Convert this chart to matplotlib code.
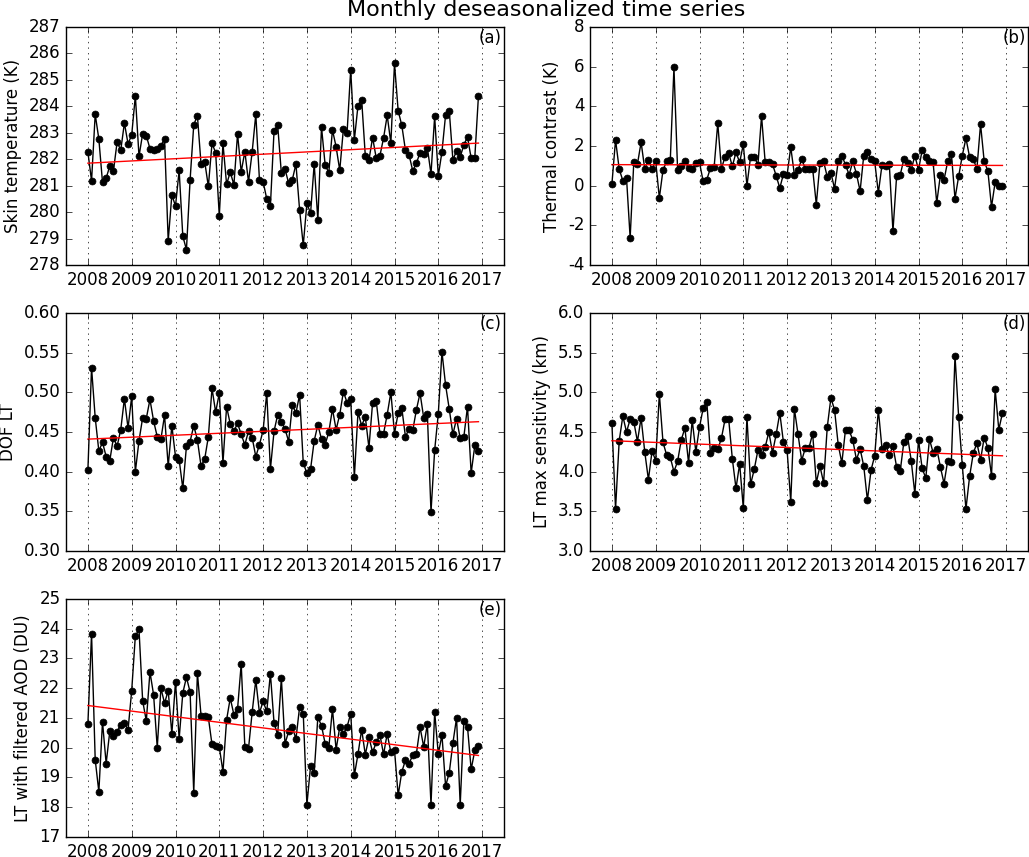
import numpy as np
import matplotlib
matplotlib.use('Agg')
import matplotlib.pyplot as plt

plt.style.use('classic')
plt.rcParams['figure.facecolor'] = 'white'
plt.rcParams['savefig.facecolor'] = 'white'

start_year = 2008
n_months = 108
year_ticks = list(range(2008, 2018))

# monthly deseasonalized values, Jan 2008 .. Dec 2016
skin_temp = [282.27, 281.18, 283.70, 282.76, 281.13, 281.28, 281.75, 281.56, 282.65, 282.34, 283.37, 282.58,
             282.92, 284.40, 282.11, 282.96, 282.89, 282.40, 282.34, 282.37, 282.50, 282.77, 278.92, 280.65,
             280.23, 281.58, 279.09, 278.58, 281.22, 283.30, 283.65, 281.81, 281.91, 280.97, 282.60, 282.25,
             279.85, 282.60, 281.05, 281.52, 281.03, 282.96, 281.52, 282.29, 281.14, 282.27, 283.70, 281.22,
             281.15, 280.50, 280.23, 283.08, 283.28, 281.47, 281.63, 281.09, 281.22, 281.82, 280.08, 278.75,
             280.33, 279.95, 281.82, 279.70, 283.22, 281.78, 281.49, 283.11, 282.47, 281.58, 283.15, 282.99,
             285.39, 282.73, 284.03, 284.25, 282.13, 281.97, 282.82, 282.04, 282.13, 282.80, 283.66, 282.61,
             285.62, 283.84, 283.28, 282.34, 282.16, 281.56, 281.85, 282.25, 282.20, 282.44, 281.44, 283.62,
             281.37, 282.28, 283.68, 283.84, 281.97, 282.32, 282.09, 282.54, 282.84, 282.04, 282.06, 284.40]

thermal_contrast = [0.08, 2.31, 0.84, 0.25, 0.40, -2.63, 1.20, 1.09, 2.19, 0.84, 1.30, 0.84,
                    1.22, -0.62, 0.79, 1.22, 1.30, 5.96, 0.79, 0.99, 1.22, 0.89, 0.84, 1.12,
                    1.17, 0.22, 0.30, 0.89, 0.92, 3.15, 0.85, 1.46, 1.64, 0.97, 1.69, 1.17,
                    2.09, 0.00, 1.47, 1.46, 1.04, 3.51, 1.17, 1.17, 1.09, 0.50, -0.12, 0.59,
                    0.55, 1.94, 0.55, 0.77, 1.34, 0.85, 0.85, 0.85, -0.95, 1.14, 1.22, 0.44,
                    0.65, -0.15, 1.22, 1.52, 1.05, 0.55, 1.22, 0.60, -0.28, 1.52, 1.72, 1.34,
                    1.22, -0.37, 1.05, 0.97, 1.09, -2.29, 0.47, 0.55, 1.34, 1.14, 0.79, 1.52,
                    0.79, 1.79, 1.46, 1.22, 1.17, -0.87, 0.55, 0.30, 1.22, 1.62, -0.65, 0.47,
                    1.52, 2.39, 1.44, 1.34, 0.85, 3.10, 1.22, 0.75, -1.07, 0.18, 0.00, 0.00]

dof_lt = [0.402, 0.531, 0.468, 0.426, 0.437, 0.419, 0.414, 0.443, 0.432, 0.453, 0.492, 0.455,
          0.495, 0.400, 0.439, 0.468, 0.467, 0.491, 0.464, 0.444, 0.441, 0.471, 0.407, 0.458,
          0.419, 0.415, 0.379, 0.432, 0.438, 0.458, 0.440, 0.407, 0.416, 0.444, 0.505, 0.475,
          0.499, 0.411, 0.482, 0.460, 0.451, 0.461, 0.447, 0.434, 0.451, 0.443, 0.419, 0.434,
          0.452, 0.499, 0.403, 0.451, 0.472, 0.463, 0.454, 0.438, 0.484, 0.474, 0.497, 0.411,
          0.398, 0.403, 0.439, 0.459, 0.441, 0.434, 0.450, 0.479, 0.453, 0.472, 0.501, 0.487,
          0.492, 0.393, 0.475, 0.458, 0.469, 0.430, 0.487, 0.489, 0.448, 0.448, 0.472, 0.500,
          0.448, 0.474, 0.480, 0.444, 0.454, 0.452, 0.478, 0.499, 0.468, 0.473, 0.349, 0.427,
          0.473, 0.551, 0.509, 0.479, 0.447, 0.467, 0.442, 0.444, 0.482, 0.398, 0.433, 0.426]

lt_max_sens = [4.61, 3.53, 4.39, 4.70, 4.50, 4.66, 4.63, 4.38, 4.68, 4.25, 3.90, 4.26,
               4.14, 4.98, 4.37, 4.21, 4.18, 4.00, 4.13, 4.40, 4.55, 4.11, 4.65, 4.25,
               4.56, 4.80, 4.88, 4.23, 4.30, 4.28, 4.42, 4.66, 4.66, 4.16, 3.79, 4.10,
               3.54, 4.69, 3.84, 4.03, 4.27, 4.21, 4.31, 4.50, 4.24, 4.47, 4.74, 4.37,
               4.27, 3.62, 4.79, 4.47, 4.14, 4.30, 4.30, 4.48, 3.86, 4.07, 3.86, 4.56,
               4.93, 4.78, 4.34, 4.11, 4.53, 4.52, 4.40, 4.15, 4.29, 4.07, 3.64, 4.02,
               4.20, 4.78, 4.29, 4.34, 4.21, 4.32, 4.06, 4.01, 4.38, 4.45, 4.14, 3.72,
               4.40, 4.04, 3.92, 4.41, 4.24, 4.29, 4.06, 3.85, 4.14, 4.12, 5.46, 4.69,
               4.08, 3.53, 3.94, 4.23, 4.36, 4.15, 4.43, 4.30, 3.95, 5.04, 4.53, 4.74]

lt_filtered_aod = [20.81, 23.83, 19.60, 18.52, 20.87, 19.47, 20.56, 20.41, 20.54, 20.78, 20.83, 20.60,
                   21.92, 23.76, 23.98, 21.58, 20.90, 22.55, 21.78, 20.00, 22.00, 21.50, 21.92, 20.47,
                   22.22, 20.30, 21.84, 22.37, 21.87, 18.49, 22.52, 21.08, 21.06, 21.02, 20.11, 20.07,
                   20.03, 19.19, 20.94, 21.67, 21.11, 21.30, 22.82, 20.03, 19.97, 21.19, 22.28, 21.17,
                   21.56, 21.22, 22.49, 20.83, 20.44, 22.34, 20.13, 20.55, 20.69, 20.30, 21.37, 21.15,
                   18.08, 19.38, 19.16, 21.03, 20.74, 20.14, 20.00, 21.31, 19.94, 20.70, 20.47, 20.70,
                   21.15, 19.07, 19.79, 20.61, 19.77, 20.35, 19.85, 20.18, 20.44, 19.78, 20.47, 19.85,
                   19.92, 18.40, 19.19, 19.58, 19.47, 19.75, 19.80, 20.69, 20.03, 20.80, 18.08, 21.20,
                   19.79, 20.43, 18.71, 19.16, 20.16, 21.00, 18.08, 20.91, 20.70, 19.27, 19.91, 20.07]

# linear trend values (first month, last month)
trend_skin = [281.85, 282.61]
trend_thermal = [1.06, 1.02]
trend_dof = [0.441, 0.463]
trend_sens = [4.39, 4.20]
trend_aod = [21.42, 19.74]

time = start_year + np.arange(n_months) / 12.0

W, H = 1029., 857.


def px_rect(left, top, right, bottom):
    return [left / W, 1 - bottom / H, (right - left) / W, (bottom - top) / H]


panels = [
    # data, trend, ylabel, ylim, yticks, fmt, tag, rect
    (skin_temp, trend_skin, 'Skin temperature (K)', (278, 287), np.arange(278, 288, 1), '%d', '(a)',
     px_rect(66, 27, 504, 265)),
    (thermal_contrast, trend_thermal, 'Thermal contrast (K)', (-4, 8), np.arange(-4, 9, 2), '%d', '(b)',
     px_rect(590, 27, 1028, 265)),
    (dof_lt, trend_dof, 'DOF LT', (0.30, 0.60), np.arange(0.30, 0.601, 0.05), '%.2f', '(c)',
     px_rect(66, 313, 504, 551)),
    (lt_max_sens, trend_sens, 'LT max sensitivity (km)', (3.0, 6.0), np.arange(3.0, 6.01, 0.5), '%.1f', '(d)',
     px_rect(590, 313, 1028, 551)),
    (lt_filtered_aod, trend_aod, 'LT with filtered AOD (DU)', (17, 25), np.arange(17, 26, 1), '%d', '(e)',
     px_rect(66, 599, 504, 837)),
]

fig = plt.figure(figsize=(W / 100, H / 100), dpi=100)

for data, trend, ylabel, ylim, yticks, fmt, tag, rect in panels:
    ax = fig.add_axes(rect)
    ax.plot(time, data, 'k-', marker='o', markersize=5, markeredgecolor='k', linewidth=1)
    ax.plot([time[0], time[-1]], trend, 'r-', linewidth=1)
    ax.set_xlim(2007.5, 2017.5)
    ax.set_ylim(*ylim)
    ax.set_xticks(year_ticks)
    ax.set_xticklabels([str(yr) for yr in year_ticks])
    ax.set_yticks(yticks)
    ax.set_yticklabels([fmt % v for v in yticks])
    ax.grid(True, axis='x', linestyle=':', color='k')
    ax.grid(False, axis='y')
    ax.set_ylabel(ylabel)
    ax.text(0.995, 0.99, tag, transform=ax.transAxes, ha='right', va='top', fontsize=12)

fig.text(0.531, 0.988, 'Monthly deseasonalized time series', ha='center', va='center', fontsize=16)

fig.savefig('out.png', dpi=100)
